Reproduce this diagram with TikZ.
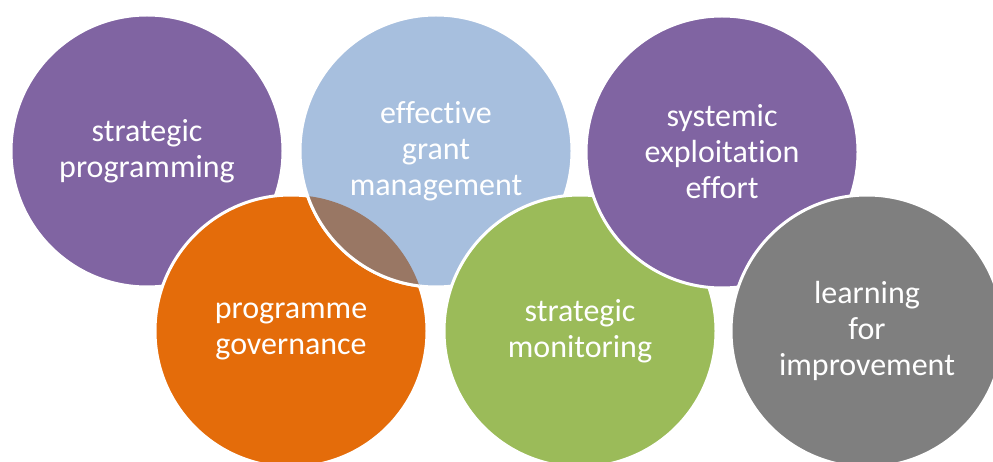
\documentclass[tikz,border=0pt]{standalone}
\usepackage{fontspec}
\setmainfont{Carlito}[RawFeature=-liga]
\usetikzlibrary{positioning}
\definecolor{violet}{RGB}{128,100,162}
\definecolor{skyblue}{RGB}{167,191,222}
\definecolor{carrot}{RGB}{228,108,10}
\definecolor{olive}{RGB}{155,187,89}
\definecolor{slate}{RGB}{127,127,127}
\definecolor{umber}{RGB}{153,119,100}

\begin{document}
\begin{tikzpicture}[x=1pt,y=-1pt,
disc/.style={circle,draw=white,line width=3pt,inner sep=0pt,minimum size=272pt,
  text=white,align=center,font=\fontsize{32}{36}\selectfont}]
 \clip (0,0) rectangle (993,462);
 \useasboundingbox (0,0) rectangle (993,462);
 \foreach \N/\P/\C/\T in {sp/{(147,151)}/violet/{strategic\\programming},
   pg/{(291,331)}/carrot/{programme\\governance},
   gm/{(436,151)}/skyblue/{effective\\grant\\management},
   sm/{(580,331)}/olive/{strategic\\monitoring},
   se/{(722,152)}/violet/{systemic\\exploitation\\effort},
   li/{(867,331)}/slate/{learning\\for\\improvement}}
 {\node[disc,fill=\C] (\N) at \P {\T};}
 % overlap of grant management and governance
 \begin{scope}
  \clip (pg.center) circle[radius=136pt];
  \fill[umber,draw=white,line width=3pt] (gm.center) circle[radius=136pt];
 \end{scope}
\end{tikzpicture}
\end{document}
